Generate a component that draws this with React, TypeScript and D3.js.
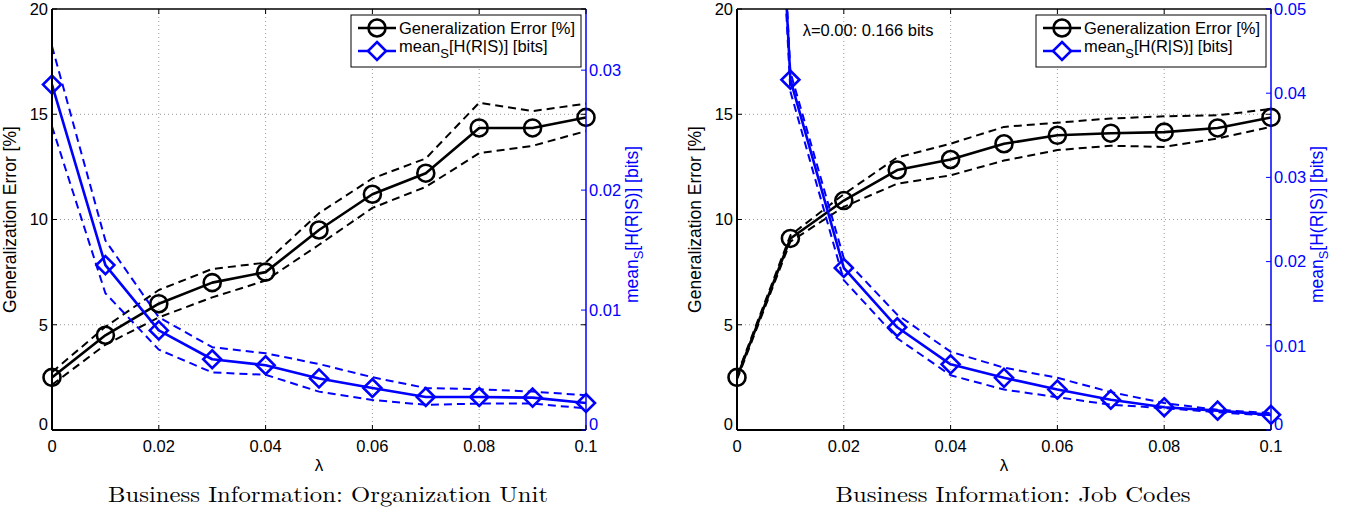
import { useEffect } from "react";
import * as d3 from "d3";

// lambda values (x axis)
const lambdas = [0, 0.01, 0.02, 0.03, 0.04, 0.05, 0.06, 0.07, 0.08, 0.09, 0.1];

// Organization Unit panel
const orgErr = [2.5, 4.5, 6.0, 7.0, 7.5, 9.5, 11.2, 12.2, 14.35, 14.35, 14.85];
const orgErrHi = [2.75, 4.9, 6.65, 7.65, 7.95, 10.3, 11.95, 12.9, 15.55, 15.15, 15.5];
const orgErrLo = [2.15, 4.05, 5.35, 6.3, 7.1, 8.8, 10.55, 11.55, 13.15, 13.5, 14.2];
const orgEnt = [0.0288, 0.01375, 0.0083, 0.0059, 0.0054, 0.0043, 0.0035, 0.00275, 0.00275, 0.0027, 0.00225];
const orgEntHi = [0.032, 0.0158, 0.0094, 0.0069, 0.0064, 0.0055, 0.0044, 0.0035, 0.0034, 0.0032, 0.0029];
const orgEntLo = [0.0253, 0.0114, 0.0067, 0.0048, 0.0046, 0.0032, 0.0025, 0.0021, 0.0022, 0.0022, 0.0018];

// Job Codes panel
const jobErr = [2.5, 9.1, 10.9, 12.35, 12.85, 13.6, 14.0, 14.1, 14.15, 14.35, 14.85];
const jobErrHi = [2.6, 9.25, 11.2, 12.95, 13.6, 14.4, 14.6, 14.8, 14.9, 14.95, 15.25];
const jobErrLo = [2.4, 8.95, 10.6, 11.7, 12.1, 12.8, 13.3, 13.5, 13.45, 13.85, 14.4];
const jobEnt = [0.166, 0.0416, 0.01925, 0.0122, 0.0078, 0.0062, 0.0048, 0.0036, 0.0027, 0.0023, 0.0018];
const jobEntHi = [0.17, 0.0425, 0.0204, 0.0137, 0.0093, 0.0074, 0.0062, 0.0045, 0.0032, 0.0024, 0.002];
const jobEntLo = [0.162, 0.0402, 0.0178, 0.0109, 0.0065, 0.0048, 0.0039, 0.003, 0.0026, 0.0021, 0.0017];

const xTicks = [0, 0.02, 0.04, 0.06, 0.08, 0.1];
const xTickLabels = ["0", "0.02", "0.04", "0.06", "0.08", "0.1"];
const errTicks = [0, 5, 10, 15, 20];
const orgEntTicks = [0, 0.01, 0.02, 0.03];
const jobEntTicks = [0, 0.01, 0.02, 0.03, 0.04, 0.05];

const FONT = "'Liberation Sans', Arial, Helvetica, sans-serif";
const SERIF = "'Latin Modern Roman', 'CMU Serif', 'Liberation Serif', 'DejaVu Serif', serif";
const BLUE = "#0000ff";

interface PanelProps {
  id: string;
  left: number;
  right: number;
  entMax: number;
  entTicks: number[];
  err: number[];
  errHi: number[];
  errLo: number[];
  ent: number[];
  entHi: number[];
  entLo: number[];
  title: string;
  titleWidth: number;
  note?: string;
}

function Panel(p: PanelProps) {
  const top = 9;
  const bottom = 430;
  const x = d3.scaleLinear().domain([0, 0.1]).range([p.left, p.right]);
  const yL = d3.scaleLinear().domain([0, 20]).range([bottom, top]);
  const yR = d3.scaleLinear().domain([0, p.entMax]).range([bottom, top]);

  const lineL = d3
    .line<number>()
    .x((_, i) => x(lambdas[i]))
    .y((d) => yL(d));
  const lineR = d3
    .line<number>()
    .x((_, i) => x(lambdas[i]))
    .y((d) => yR(d));

  const cx = (p.left + p.right) / 2;
  const lgX = p.right - 235;
  const dia = 9;

  return (
    <g>
      <defs>
        <clipPath id={p.id}>
          <rect x={p.left} y={top} width={p.right - p.left} height={bottom - top} />
        </clipPath>
      </defs>
      {/* grid */}
      {xTicks.slice(1, -1).map((t) => (
        <line key={"gx" + t} x1={x(t)} x2={x(t)} y1={top} y2={bottom}
          stroke="#999" strokeWidth={1} strokeDasharray="1,3" />
      ))}
      {errTicks.slice(1, -1).map((t) => (
        <line key={"gy" + t} x1={p.left} x2={p.right} y1={yL(t)} y2={yL(t)}
          stroke="#999" strokeWidth={1} strokeDasharray="1,3" />
      ))}
      {/* series */}
      <g clipPath={`url(#${p.id})`} fill="none" strokeLinejoin="round">
        <path d={lineL(p.errHi)!} stroke="#000" strokeWidth={2} strokeDasharray="8,5" />
        <path d={lineL(p.errLo)!} stroke="#000" strokeWidth={2} strokeDasharray="8,5" />
        <path d={lineL(p.err)!} stroke="#000" strokeWidth={2.6} />
        <path d={lineR(p.entHi)!} stroke={BLUE} strokeWidth={2} strokeDasharray="8,5" />
        <path d={lineR(p.entLo)!} stroke={BLUE} strokeWidth={2} strokeDasharray="8,5" />
        <path d={lineR(p.ent)!} stroke={BLUE} strokeWidth={2.6} />
      </g>
      {p.err.map((v, i) => (
        <circle key={"c" + i} cx={x(lambdas[i])} cy={yL(v)} r={8.5}
          fill="none" stroke="#000" strokeWidth={2.6} />
      ))}
      {p.ent.map((v, i) =>
        v <= p.entMax ? (
          <path key={"d" + i}
            d={`M${x(lambdas[i])},${yR(v) - dia}l${dia},${dia}l${-dia},${dia}l${-dia},${-dia}z`}
            fill="none" stroke={BLUE} strokeWidth={2.6} />
        ) : null
      )}
      {/* axes box */}
      <line x1={p.left} x2={p.right} y1={top} y2={top} stroke="#000" strokeWidth={1.5} />
      <line x1={p.left} x2={p.right} y1={bottom} y2={bottom} stroke="#000" strokeWidth={2} />
      <line x1={p.left} x2={p.left} y1={top} y2={bottom} stroke="#000" strokeWidth={2} />
      <line x1={p.right} x2={p.right} y1={top} y2={bottom} stroke={BLUE} strokeWidth={1.5} />
      {xTicks.map((t, i) => (
        <g key={"xt" + t}>
          <line x1={x(t)} x2={x(t)} y1={bottom} y2={bottom - 5} stroke="#000" />
          <line x1={x(t)} x2={x(t)} y1={top} y2={top + 5} stroke="#000" />
          <text x={x(t)} y={452} textAnchor="middle" fontSize={16.5} fontFamily={FONT}>
            {xTickLabels[i]}
          </text>
        </g>
      ))}
      {errTicks.map((t) => (
        <g key={"yt" + t}>
          <line x1={p.left} x2={p.left + 5} y1={yL(t)} y2={yL(t)} stroke="#000" />
          <line x1={p.right} x2={p.right - 5} y1={yL(t)} y2={yL(t)} stroke="#000" />
          <text x={p.left - 4} y={yL(t) - (t === 0 ? 6 : 0)} dy="0.35em" textAnchor="end"
            fontSize={16.5} fontFamily={FONT}>
            {t}
          </text>
        </g>
      ))}
      {p.entTicks.map((t) => (
        <g key={"rt" + t}>
          <line x1={p.right} x2={p.right - 5} y1={yR(t)} y2={yR(t)} stroke={BLUE} />
          <text x={p.right + 3} y={yR(t) - (t === 0 ? 6 : 0)} dy="0.35em" fontSize={16.5}
            fontFamily={FONT} fill={BLUE}>
            {t === 0 ? "0" : d3.format(".2f")(t)}
          </text>
        </g>
      ))}
      {/* axis labels */}
      <text transform={`translate(${p.left - 36},${(top + bottom) / 2}) rotate(-90)`}
        textAnchor="middle" fontSize={17.5} fontFamily={FONT}>
        Generalization Error [%]
      </text>
      <text transform={`translate(${p.right + 52},${(top + bottom) / 2 + 5}) rotate(-90)`}
        textAnchor="middle" fontSize={17.5} fontFamily={FONT} fill={BLUE}>
        mean<tspan fontSize={13} dy={5}>S</tspan><tspan dy={-5}>[H(R|S)] [bits]</tspan>
      </text>
      <text x={cx} y={471} textAnchor="middle" fontSize={17} fontFamily={FONT}>λ</text>
      <text x={cx + 9} y={502} textAnchor="middle" fontSize={22} fontFamily={SERIF}
        textLength={p.titleWidth} lengthAdjust="spacingAndGlyphs">
        {p.title}
      </text>
      {p.note ? (
        <text x={x(0.0123)} y={36} fontSize={16.5} fontFamily={FONT}>{p.note}</text>
      ) : null}
      {/* legend */}
      <g>
        <rect x={lgX} y={15} width={230} height={52} fill="#fff" stroke="#000" strokeWidth={1} />
        <line x1={lgX + 7} x2={lgX + 45} y1={28} y2={28} stroke="#000" strokeWidth={2.6} />
        <circle cx={lgX + 26} cy={28} r={8.5} fill="none" stroke="#000" strokeWidth={2.6} />
        <text x={lgX + 48} y={34} fontSize={16.5} fontFamily={FONT}>Generalization Error [%]</text>
        <line x1={lgX + 7} x2={lgX + 45} y1={51} y2={51} stroke={BLUE} strokeWidth={2.6} />
        <path d={`M${lgX + 26},${51 - dia}l${dia},${dia}l${-dia},${dia}l${-dia},${-dia}z`}
          fill="#fff" stroke={BLUE} strokeWidth={2.6} />
        <text x={lgX + 48} y={52} fontSize={16.5} fontFamily={FONT}>
          mean<tspan fontSize={13} dy={6}>S</tspan><tspan dy={-6}>[H(R|S)] [bits]</tspan>
        </text>
      </g>
    </g>
  );
}

export default function App() {
  useEffect(() => {
    document.body.style.margin = "0";
  }, []);
  return (
    <svg width={1349} height={512} style={{ display: "block", background: "#fff" }}>
      <Panel id="clipOrg" left={52} right={586} entMax={0.0351} entTicks={orgEntTicks}
        err={orgErr} errHi={orgErrHi} errLo={orgErrLo}
        ent={orgEnt} entHi={orgEntHi} entLo={orgEntLo}
        title="Business Information: Organization Unit" titleWidth={440} />
      <Panel id="clipJob" left={737} right={1271} entMax={0.05} entTicks={jobEntTicks}
        err={jobErr} errHi={jobErrHi} errLo={jobErrLo}
        ent={jobEnt} entHi={jobEntHi} entLo={jobEntLo}
        title="Business Information: Job Codes" titleWidth={355} note="λ=0.00: 0.166 bits" />
    </svg>
  );
}
